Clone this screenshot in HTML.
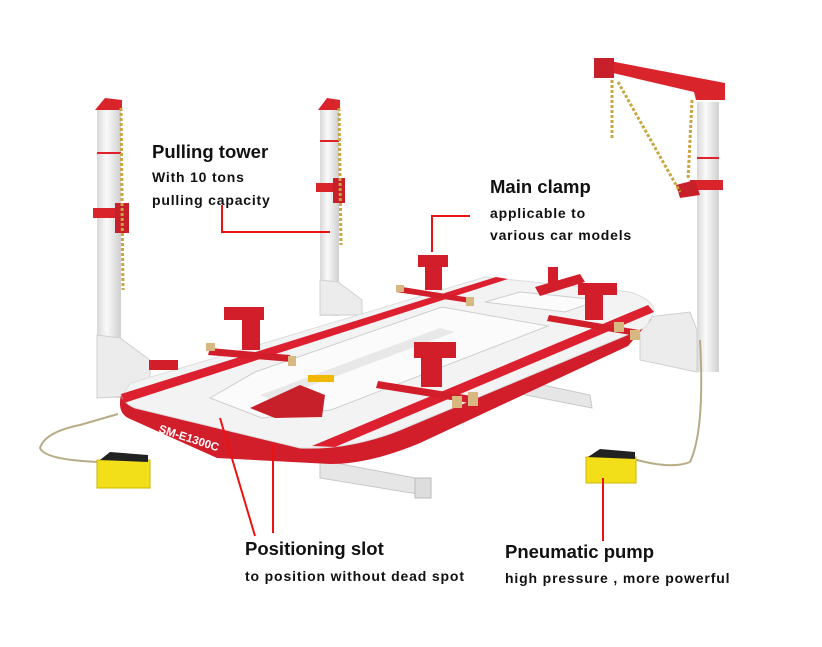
<!DOCTYPE html>
<html><head><meta charset="utf-8"><style>
html,body{margin:0;padding:0;background:#fff;}
svg{display:block;}
text{font-family:"Liberation Sans",Arial,sans-serif;font-weight:bold;fill:#111;}
</style></head><body>
<svg width="822" height="647" viewBox="0 0 822 647" xmlns="http://www.w3.org/2000/svg">
<defs>
<linearGradient id="pole" x1="0" x2="1" y1="0" y2="0">
<stop offset="0" stop-color="#d8d8d8"/><stop offset="0.4" stop-color="#fafafa"/><stop offset="1" stop-color="#cfcfcf"/>
</linearGradient>
</defs>
<!-- support legs -->
<polygon points="320,460 415,478 430,496 320,478" fill="#e6e6e6" stroke="#c8c8c8"/>
<rect x="415" y="478" width="16" height="20" fill="#ddd" stroke="#bbb"/>
<polygon points="510,378 590,395 592,408 510,392" fill="#e6e6e6" stroke="#c8c8c8"/>
<!-- left tower -->
<rect x="97" y="108" width="24" height="290" fill="url(#pole)"/>
<polygon points="95,110 105,98 122,100 122,110" fill="#d9242c"/>
<rect x="97" y="152" width="24" height="2" fill="#e0202a"/>
<rect x="93" y="208" width="32" height="10" fill="#d9242c"/>
<rect x="115" y="203" width="14" height="30" fill="#c8202a"/>
<line x1="121" y1="108" x2="123" y2="290" stroke="#c9a640" stroke-width="3" stroke-dasharray="3,2"/>
<polygon points="97,335 120,338 150,360 150,395 97,398" fill="#ececec" stroke="#d0d0d0"/>
<!-- middle tower -->
<rect x="320" y="108" width="19" height="208" fill="url(#pole)"/>
<polygon points="318,110 327,98 340,100 340,110" fill="#d9242c"/>
<rect x="320" y="140" width="19" height="2" fill="#e0202a"/>
<rect x="316" y="183" width="26" height="9" fill="#d9242c"/>
<rect x="333" y="178" width="12" height="25" fill="#c8202a"/>
<line x1="339" y1="108" x2="341" y2="245" stroke="#c9a640" stroke-width="3" stroke-dasharray="3,2"/>
<polygon points="320,280 338,282 362,300 362,315 320,315" fill="#ececec" stroke="#d0d0d0"/>
<!-- right tower -->
<rect x="697" y="102" width="22" height="270" fill="url(#pole)"/>
<rect x="697" y="157" width="22" height="2" fill="#e0202a"/>
<polygon points="594,58 725,83 725,100 696,100 694,92 600,70" fill="#d9242c"/>
<rect x="594" y="58" width="20" height="20" fill="#c8202a"/>
<rect x="690" y="180" width="33" height="10" fill="#d9242c"/>
<polygon points="676,185 695,180 700,195 680,198" fill="#c8202a"/>
<line x1="618" y1="82" x2="680" y2="192" stroke="#c9a640" stroke-width="3" stroke-dasharray="3,2"/>
<line x1="612" y1="80" x2="612" y2="140" stroke="#c9a640" stroke-width="3" stroke-dasharray="3,2"/>
<line x1="692" y1="100" x2="688" y2="180" stroke="#c9a640" stroke-width="3" stroke-dasharray="3,2"/>
<polygon points="640,318 690,312 697,330 697,372 640,360" fill="#ececec" stroke="#d0d0d0"/>
<!-- platform side band -->
<path d="M121,395 Q117,412 128,418 L217,458 L330,464 Q370,464 420,443 L628,346 L652,318 L646,327 L400,430 Q350,450 300,448 L135,408 Q122,403 121,395 Z" fill="#d21d2a"/>
<!-- platform top -->
<path d="M131,383 L485,277 L630,292 Q660,302 652,316 L646,327 L400,430 Q350,450 300,448 L135,408 Q115,400 131,383 Z" fill="#f3f3f3" stroke="#ddd"/>
<!-- inner opening -->
<path d="M210,398 L255,372 L442,307 L548,326 L331,410 L262,418 Z" fill="#fbfbfb" stroke="#cfcfcf"/>
<path d="M485,302 L520,292 L600,300 L565,312 Z" fill="#fbfbfb" stroke="#cfcfcf"/>
<polygon points="260,395 440,328 455,332 272,400" fill="#e8e8e8"/>
<!-- stripes -->
<polygon points="121,394 496,277 508,279 124,403" fill="#dd2030"/>
<polygon points="312,446 648,305 654,312 335,447" fill="#dd2030"/>
<!-- hole cylinder -->
<polygon points="250,408 300,385 325,395 322,417 275,418" fill="#c8202a"/>
<rect x="308" y="375" width="26" height="7" fill="#f0b800"/>
<!-- clamps -->
<g fill="#d21d2a">
<rect x="224" y="307" width="40" height="13"/><rect x="242" y="320" width="18" height="30"/><polygon points="210,348 290,355 292,362 208,355"/>
<rect x="418" y="255" width="30" height="12"/><rect x="425" y="267" width="17" height="23"/><polygon points="396,286 471,298 470,303 396,292"/>
<rect x="414" y="342" width="42" height="16"/><rect x="421" y="358" width="21" height="29"/><polygon points="378,381 478,397 476,404 376,388"/>
<rect x="578" y="283" width="39" height="12"/><rect x="585" y="295" width="18" height="25"/><polygon points="549,315 639,330 637,336 547,321"/>
<polygon points="535,287 580,274 585,282 540,296"/>
<rect x="548" y="267" width="10" height="18"/>
<rect x="149" y="360" width="29" height="10"/>
</g>
<g fill="#d8b880">
<rect x="206" y="343" width="9" height="8"/><rect x="288" y="356" width="8" height="10"/>
<rect x="396" y="285" width="8" height="7"/><rect x="466" y="297" width="8" height="9"/>
<rect x="452" y="396" width="10" height="12"/><rect x="468" y="392" width="10" height="14"/>
<rect x="614" y="322" width="10" height="10"/><rect x="630" y="330" width="10" height="10"/>
</g>
<text x="158" y="432" font-size="11.5" style="fill:#fff" transform="rotate(18 158 432)">SM-E1300C</text>
<!-- pumps -->
<path d="M100,462 Q45,460 40,448 Q45,432 80,425 L118,414" fill="none" stroke="#b8ab86" stroke-width="2"/>
<rect x="97" y="460" width="53" height="28" fill="#f2df1a" stroke="#c9b800"/>
<polygon points="100,460 110,452 148,455 148,462" fill="#222"/>
<path d="M630,458 Q670,470 690,462 Q705,430 700,340" fill="none" stroke="#b8ab86" stroke-width="2"/>
<rect x="586" y="457" width="50" height="26" fill="#f2df1a" stroke="#c9b800"/>
<polygon points="588,457 600,449 635,452 635,459" fill="#222"/>
<!-- leaders -->
<g stroke="#ee1111" stroke-width="2" fill="none">
<polyline points="222,205 222,232 330,232"/>
<polyline points="470,216 432,216 432,252"/>
<line x1="220" y1="418" x2="255" y2="536"/>
<line x1="273" y1="445" x2="273" y2="533"/>
<line x1="603" y1="478" x2="603" y2="541"/>
</g>
<!-- labels -->
<text x="152" y="158" font-size="18.5">Pulling tower</text>
<text x="152" y="182" font-size="14" letter-spacing="0.8">With 10 tons</text>
<text x="152" y="205" font-size="14" letter-spacing="0.8">pulling capacity</text>
<text x="490" y="193" font-size="18.5">Main clamp</text>
<text x="490" y="218" font-size="14" letter-spacing="0.8">applicable to</text>
<text x="490" y="240" font-size="14" letter-spacing="0.8">various car models</text>
<text x="245" y="555" font-size="18.5">Positioning slot</text>
<text x="245" y="581" font-size="14" letter-spacing="0.85">to position without dead spot</text>
<text x="505" y="558" font-size="18.5">Pneumatic pump</text>
<text x="505" y="583" font-size="14" letter-spacing="0.85">high pressure , more powerful</text>
</svg>
</body></html>
